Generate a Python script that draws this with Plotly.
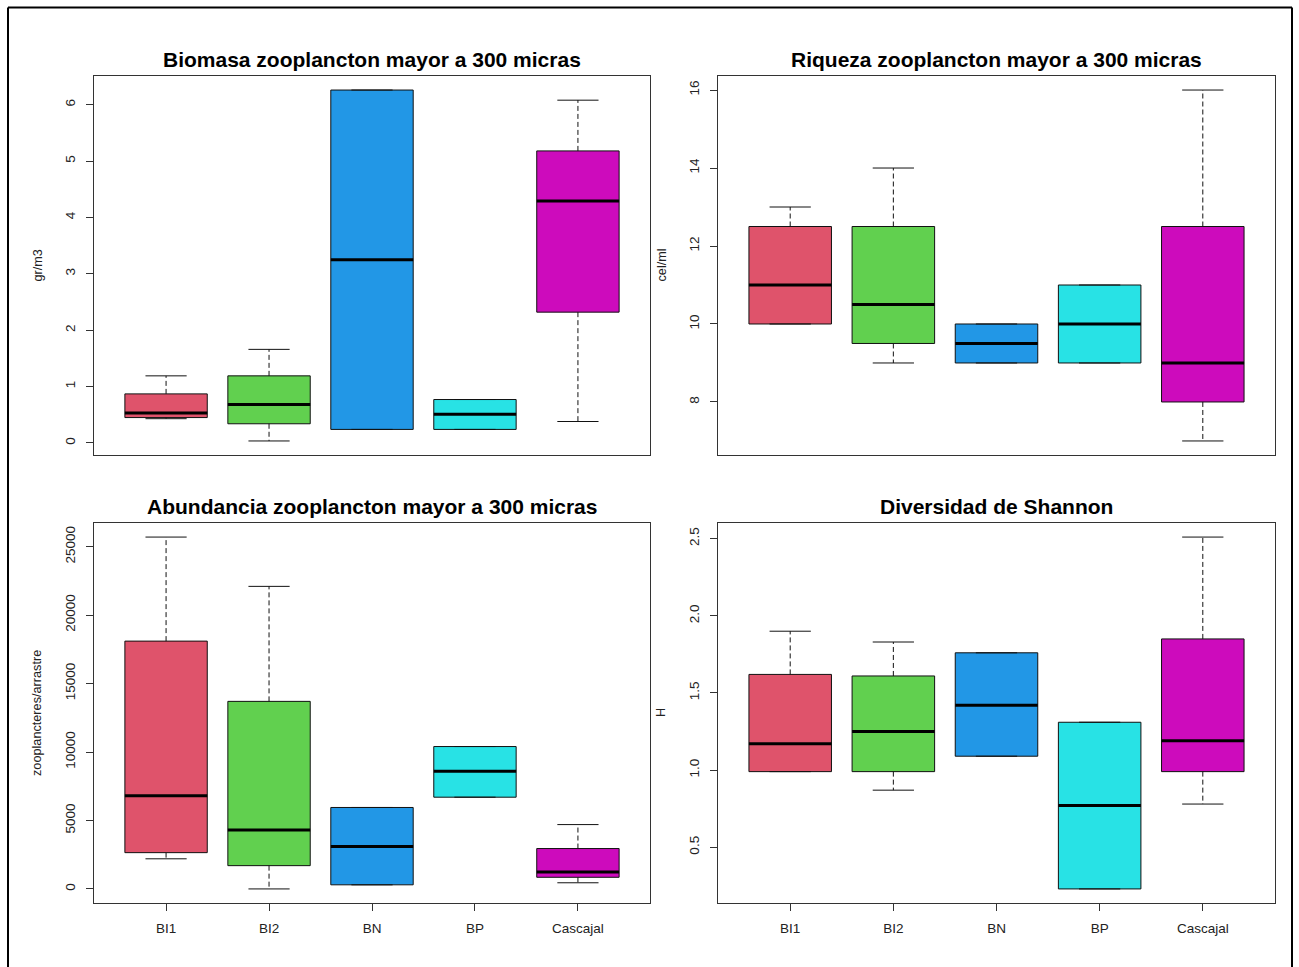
import plotly.graph_objects as go

# Sampling stations
stations = ["BI1", "BI2", "BN", "BP", "Cascajal"]
colors = ["#DF536B", "#61D04F", "#2297E6", "#28E2E5", "#CD0BBC"]

# Biomasa (gr/m3): five-number summaries per station
bio_low = [0.43, 0.035, 0.24, 0.24, 0.38]
bio_q1 = [0.45, 0.34, 0.24, 0.24, 2.32]
bio_med = [0.53, 0.68, 3.25, 0.51, 4.29]
bio_q3 = [0.87, 1.19, 6.26, 0.77, 5.18]
bio_high = [1.19, 1.66, 6.26, 0.77, 6.08]

# Riqueza (cel/ml)
riq_low = [10, 9, 9, 9, 7]
riq_q1 = [10, 9.5, 9, 9, 8]
riq_med = [11, 10.5, 9.5, 10, 9]
riq_q3 = [12.5, 12.5, 10, 11, 12.5]
riq_high = [13, 14, 10, 11, 16]

# Abundancia (zooplancteres/arrastre)
abu_low = [2200, 0, 300, 6700, 450]
abu_q1 = [2650, 1700, 300, 6700, 850]
abu_med = [6800, 4300, 3100, 8600, 1240]
abu_q3 = [18100, 13700, 5950, 10400, 2950]
abu_high = [25700, 22100, 5950, 10400, 4700]

# Diversidad de Shannon (H)
sha_low = [0.99, 0.87, 1.09, 0.23, 0.78]
sha_q1 = [0.99, 0.99, 1.09, 0.23, 0.99]
sha_med = [1.17, 1.25, 1.42, 0.77, 1.19]
sha_q3 = [1.62, 1.61, 1.76, 1.31, 1.85]
sha_high = [1.90, 1.83, 1.76, 1.31, 2.51]

panels = [
    dict(title="Biomasa zooplancton mayor a 300 micras", ylab="gr/m3",
         stats=(bio_low, bio_q1, bio_med, bio_q3, bio_high),
         ticks=[0, 1, 2, 3, 4, 5, 6], fmt="d", xlabels=False),
    dict(title="Riqueza zooplancton mayor a 300 micras", ylab="cel/ml",
         stats=(riq_low, riq_q1, riq_med, riq_q3, riq_high),
         ticks=[8, 10, 12, 14, 16], fmt="d", xlabels=False),
    dict(title="Abundancia zooplancton mayor a 300 micras", ylab="zooplancteres/arrastre",
         stats=(abu_low, abu_q1, abu_med, abu_q3, abu_high),
         ticks=[0, 5000, 10000, 15000, 20000, 25000], fmt="d", xlabels=True),
    dict(title="Diversidad de Shannon", ylab="H",
         stats=(sha_low, sha_q1, sha_med, sha_q3, sha_high),
         ticks=[0.5, 1.0, 1.5, 2.0, 2.5], fmt=".1f", xlabels=True),
]

W, H = 1299, 967
# plot regions in pixels: (left, right, top, bottom)
regions = [(94, 650, 76, 455), (718, 1275, 76, 455),
           (94, 650, 523, 903), (718, 1275, 523, 903)]

FONT = "Liberation Sans, Arial, sans-serif"
AX = "#333333"
BOXWEX = 0.8
STAPLE = 0.4

fig = go.Figure()
annotations = []
xpos = list(range(1, len(stations) + 1))

for i, (p, reg) in enumerate(zip(panels, regions)):
    n = "" if i == 0 else str(i + 1)
    xa, ya = "x" + n, "y" + n
    low, q1, med, q3, high = p["stats"]

    # boxes
    fig.add_trace(go.Bar(
        x=xpos, base=q1, y=[b - a for a, b in zip(q1, q3)], width=BOXWEX,
        marker=dict(color=colors, line=dict(color="#111111", width=1)),
        xaxis=xa, yaxis=ya, showlegend=False, hoverinfo="skip"))

    # dashed whiskers
    wx, wy = [], []
    for x, a, b, c, d in zip(xpos, low, q1, q3, high):
        wx += [x, x, None, x, x, None]
        wy += [c, d, None, b, a, None]
    fig.add_trace(go.Scatter(x=wx, y=wy, mode="lines",
                             line=dict(color="#111111", width=1, dash="5px,3px"),
                             xaxis=xa, yaxis=ya, showlegend=False, hoverinfo="skip"))

    # staples
    sx, sy = [], []
    for x, a, d in zip(xpos, low, high):
        sx += [x - STAPLE / 2, x + STAPLE / 2, None, x - STAPLE / 2, x + STAPLE / 2, None]
        sy += [d, d, None, a, a, None]
    fig.add_trace(go.Scatter(x=sx, y=sy, mode="lines",
                             line=dict(color="#111111", width=1),
                             xaxis=xa, yaxis=ya, showlegend=False, hoverinfo="skip"))

    # medians
    mx, my = [], []
    for x, m in zip(xpos, med):
        mx += [x - BOXWEX / 2, x + BOXWEX / 2, None]
        my += [m, m, None]
    fig.add_trace(go.Scatter(x=mx, y=my, mode="lines",
                             line=dict(color="black", width=3),
                             xaxis=xa, yaxis=ya, showlegend=False, hoverinfo="skip"))

    lo, hi = min(low), max(high)
    ext = 0.04 * (hi - lo)
    left, right, top, bottom = reg
    xdom = [left / W, right / W]
    ydom = [1 - bottom / H, 1 - top / H]

    xkey = "xaxis" + n
    ykey = "yaxis" + n
    fig.layout[xkey] = dict(
        domain=xdom, range=[0.3, len(stations) + 0.7], anchor=ya,
        showline=True, mirror=True, linecolor=AX, linewidth=1,
        showgrid=False, zeroline=False,
        tickvals=xpos, ticktext=stations,
        ticks="outside" if p["xlabels"] else "", ticklen=7, tickcolor=AX,
        showticklabels=p["xlabels"], ticklabelstandoff=6,
        tickfont=dict(family=FONT, size=13.5, color="#222222"))
    fig.layout[ykey] = dict(
        domain=ydom, range=[lo - ext, hi + ext], anchor=xa,
        showline=True, mirror=True, linecolor=AX, linewidth=1,
        showgrid=False, zeroline=False,
        tickvals=p["ticks"], tickformat=p["fmt"], tickangle=-90,
        ticks="outside", ticklen=7, tickcolor=AX, ticklabelstandoff=6,
        tickfont=dict(family=FONT, size=13.5, color="#222222"))

    annotations.append(dict(
        text="<b>" + p["title"] + "</b>", xref=xa + " domain", yref=ya + " domain",
        x=0.5, y=1, xanchor="center", yanchor="middle", yshift=17, showarrow=False,
        font=dict(family=FONT, size=21, color="black")))
    annotations.append(dict(
        text=p["ylab"], xref=xa + " domain", yref=ya + " domain",
        x=0, y=0.5, xanchor="center", yanchor="middle", xshift=-57, textangle=-90,
        showarrow=False, font=dict(family=FONT, size=12.7, color="#222222")))

# outer frame (left, top, right edges)
frame = dict(color="black", width=2)
shapes = [
    dict(type="line", xref="paper", yref="paper", x0=8 / W, x1=8 / W, y0=1 - 7.5 / H, y1=-0.05, line=frame),
    dict(type="line", xref="paper", yref="paper", x0=8 / W, x1=1292 / W, y0=1 - 7.5 / H, y1=1 - 7.5 / H, line=frame),
    dict(type="line", xref="paper", yref="paper", x0=1292 / W, x1=1292 / W, y0=1 - 7.5 / H, y1=-0.05, line=frame),
]

fig.update_layout(
    width=W, height=H, margin=dict(l=0, r=0, t=0, b=0),
    paper_bgcolor="white", plot_bgcolor="white",
    barmode="overlay", showlegend=False,
    annotations=annotations, shapes=shapes,
    font=dict(family=FONT),
)

fig.write_html("out.html")
